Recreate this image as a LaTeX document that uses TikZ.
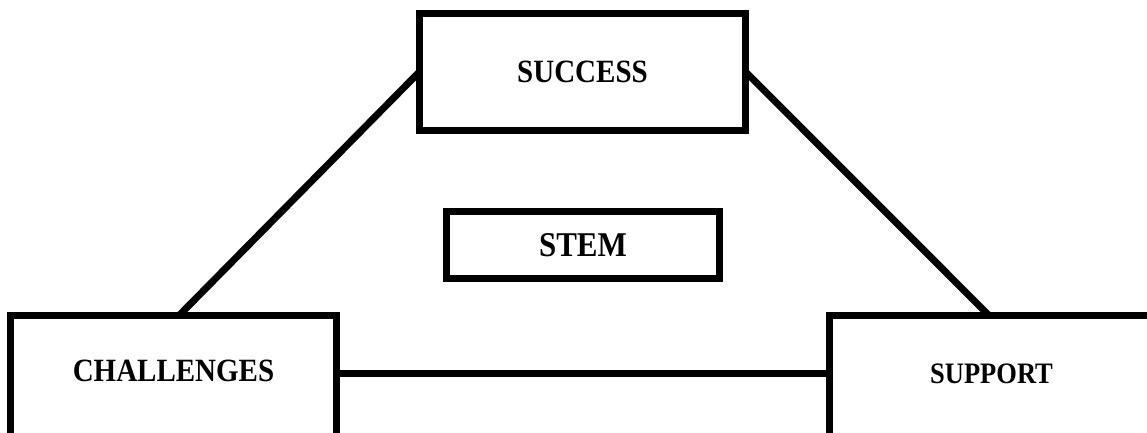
\documentclass[tikz,border=0pt]{standalone}
\usepackage{fontspec}
\usepackage{graphicx}
\setmainfont{Liberation Serif}
\newcommand\tallword[1]{\scalebox{1}[1.12]{#1}}

\begin{document}
\begin{tikzpicture}[x=1pt, y=-1pt,
    box/.style={draw, line width=7pt, outer sep=0pt, inner sep=0pt, font=\bfseries\fontsize{29}{34}\selectfont},
    link/.style={line width=7pt}]
    \useasboundingbox (0, 0) rectangle (1147, 432);
    \clip (0, 0) rectangle (1147, 432);

    \node[box, minimum width=326pt, minimum height=116.5pt] (success) at (582.5, 71.75) {\tallword{SUCCESS}};
    \node[box, minimum width=273pt, minimum height=67pt, font=\bfseries\fontsize{31}{36}\selectfont] (stem) at (583, 245) {\tallword{STEM}};
    \node[box, minimum width=326pt, minimum height=122pt, text depth=10pt] (challenges) at (173.5, 376) {\tallword{CHALLENGES}};
    \node[box, minimum width=324pt, minimum height=122pt, text depth=4pt, font=\bfseries\fontsize{26.5}{31}\selectfont] (support) at (991.5, 376) {\tallword{SUPPORT}};

    \draw[link] (success.west) -- ([xshift=6pt]challenges.north);
    \draw[link] (success.east) -- ([xshift=-3pt]support.north);
    \draw[link] ([yshift=2.5pt]challenges.east) -- ([yshift=2.5pt]support.west);
\end{tikzpicture}
\end{document}
